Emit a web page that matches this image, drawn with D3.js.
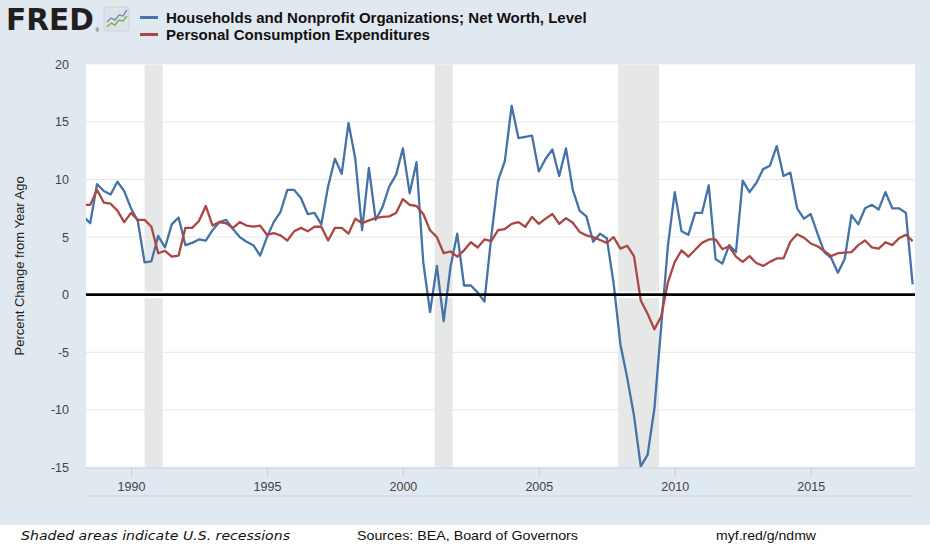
<!DOCTYPE html>
<html lang="en">
<head>
<meta charset="utf-8"/>
<title>FRED – Net worth vs. consumption</title>
<script src="https://cdn.jsdelivr.net/npm/d3@7/dist/d3.min.js"></script>
<style>
  html, body { margin:0; padding:0; background:#fff; overflow:hidden; }
  svg { display:block; font-family:"Liberation Sans", Arial, sans-serif; }
</style>
</head>
<body>
<svg id="chart" width="930" height="550"></svg>
<script>
// quarterly, percent change from year ago, first obs 1988 Q2
const startYear = 1988, startQuarter = 2;

const netWorth = [
  6.8, 6.2, 9.6, 9.0, 8.7, 9.8, 9.0, 7.5, 6.4, 2.8,
  2.9, 5.1, 4.1, 6.1, 6.7, 4.3, 4.5, 4.8, 4.7, 5.6,
  6.3, 6.5, 5.7, 5.0, 4.6, 4.3, 3.4, 5.0, 6.3, 7.2,
  9.1, 9.1, 8.4, 7.0, 7.1, 6.1, 9.4, 11.8, 10.5, 14.9,
  11.8, 5.6, 11.0, 6.5, 7.6, 9.4, 10.4, 12.7, 8.8, 11.5,
  2.8, -1.5, 2.5, -2.3, 2.4, 5.3, 0.8, 0.8, 0.2, -0.6,
  5.0, 9.9, 11.6, 16.4, 13.6, 13.7, 13.8, 10.7, 11.8, 12.6,
  10.3, 12.7, 9.1, 7.3, 6.8, 4.6, 5.3, 4.9, 1.0, -4.3,
  -7.2, -10.5, -14.9, -13.9, -9.9, -2.8, 4.3, 8.9, 5.5, 5.2,
  7.1, 7.1, 9.5, 3.1, 2.7, 4.3, 3.7, 9.9, 8.9, 9.7,
  10.9, 11.2, 12.9, 10.3, 10.6, 7.5, 6.6, 7.0, 5.3, 3.7,
  3.2, 1.9, 3.1, 6.9, 6.1, 7.5, 7.8, 7.4, 8.9, 7.5,
  7.5, 7.1, 0.9
];

const pce = [
  7.8, 7.8, 9.1, 8.0, 7.9, 7.3, 6.3, 7.1, 6.5, 6.5,
  5.9, 3.6, 3.8, 3.3, 3.4, 5.8, 5.8, 6.4, 7.7, 6.0,
  6.3, 6.2, 5.8, 6.3, 6.0, 5.9, 6.0, 5.2, 5.35, 5.15,
  4.7, 5.5, 5.8, 5.5, 5.9, 5.9, 4.7, 5.8, 5.8, 5.3,
  6.6, 6.2, 6.45, 6.65, 6.75, 6.8, 7.1, 8.3, 7.8, 7.7,
  7.0, 5.6, 5.0, 3.6, 3.75, 3.3, 3.85, 4.55, 4.1, 4.8,
  4.65, 5.6, 5.7, 6.15, 6.3, 5.9, 6.75, 6.15, 6.6, 7.0,
  6.15, 6.65, 6.25, 5.45, 5.15, 5.0, 4.75, 4.5, 5.0, 4.0,
  4.25, 3.35, -0.5, -1.65, -3.0, -1.9, 1.1, 2.85, 3.85, 3.3,
  3.9, 4.5, 4.8, 4.8, 3.95, 4.2, 3.3, 2.85, 3.35, 2.75,
  2.5, 2.85, 3.15, 3.15, 4.6, 5.25, 4.95, 4.45, 4.2, 3.8,
  3.35, 3.6, 3.65, 3.7, 4.3, 4.7, 4.1, 4.0, 4.55, 4.3,
  4.9, 5.2, 4.65
];

const recessions = [[1990.5, 1991.17], [2001.17, 2001.83], [2007.92, 2009.42]];
const xTicks = [1990, 1995, 2000, 2005, 2010, 2015];
const yTicks = [-15, -10, -5, 0, 5, 10, 15, 20];
const seriesNames = [
  "Households and Nonprofit Organizations; Net Worth, Level",
  "Personal Consumption Expenditures"
];
const seriesColors = ["#4572a7", "#aa4643"];
const footer = ["Shaded areas indicate U.S. recessions", "Sources: BEA, Board of Governors", "myf.red/g/ndmw"];

const svg = d3.select("#chart");
const plot = {left: 86, right: 915, top: 64.3, bottom: 467.5};

const x = d3.scaleLinear().domain([1990, 2015]).range([131, 810.7]);
const y = d3.scaleLinear().domain([-15, 20]).range([plot.bottom, plot.top]);
const t0 = startYear + (startQuarter - 1) / 4;
const dateOf = i => t0 + i / 4;

// background
svg.append("rect").attr("width", 930).attr("height", 525).attr("fill", "#e1e9f0");
svg.append("rect")
  .attr("x", plot.left).attr("y", plot.top)
  .attr("width", plot.right - plot.left).attr("height", plot.bottom - plot.top)
  .attr("fill", "#fff");

svg.append("defs").append("clipPath").attr("id", "clip")
  .append("rect")
  .attr("x", plot.left).attr("y", plot.top)
  .attr("width", plot.right - plot.left).attr("height", plot.bottom - plot.top);

const g = svg.append("g").attr("clip-path", "url(#clip)");

// grid
g.selectAll("line.grid")
  .data(yTicks.filter(d => d !== 0 && d !== -15 && d !== 20))
  .join("line")
    .attr("class", "grid")
    .attr("x1", plot.left).attr("x2", plot.right)
    .attr("y1", d => y(d)).attr("y2", d => y(d))
    .attr("stroke", "#e6e6e6").attr("stroke-width", 1);

// recession bars
g.selectAll("rect.rec")
  .data(recessions)
  .join("rect")
    .attr("class", "rec")
    .attr("x", d => x(d[0])).attr("width", d => x(d[1]) - x(d[0]))
    .attr("y", plot.top).attr("height", plot.bottom - plot.top)
    .attr("fill", "#e6e7e7");

// white band behind zero line
g.append("rect")
  .attr("x", plot.left).attr("width", plot.right - plot.left)
  .attr("y", y(0) - 3).attr("height", 6.5)
  .attr("fill", "#fff");

// series
const line = d3.line().x((d, i) => x(dateOf(i))).y(d => y(d));
[netWorth, pce].forEach((s, k) => {
  g.append("path")
    .datum(s)
    .attr("d", line)
    .attr("fill", "none")
    .attr("stroke", seriesColors[k])
    .attr("stroke-width", 2.3)
    .attr("stroke-linejoin", "round");
});

// zero line
g.append("line")
  .attr("x1", plot.left).attr("x2", plot.right)
  .attr("y1", y(0)).attr("y2", y(0))
  .attr("stroke", "#000").attr("stroke-width", 2.8);

// x axis
const xAxis = svg.append("g")
  .attr("transform", `translate(0,${plot.bottom})`)
  .call(d3.axisBottom(x).tickValues(xTicks).tickFormat(d3.format("d")).tickSize(9).tickSizeOuter(0).tickPadding(6));
xAxis.select(".domain").remove();
xAxis.selectAll(".tick line").attr("stroke", "#c0d0e0");
xAxis.selectAll(".tick text")
  .attr("fill", "#444").style("font-size", "12.5px")
  .style("font-family", "'Liberation Sans', Arial, sans-serif");
svg.append("line")
  .attr("x1", plot.left).attr("x2", plot.right)
  .attr("y1", plot.bottom + 0.5).attr("y2", plot.bottom + 0.5)
  .attr("stroke", "#c0d0e0");
svg.append("line")
  .attr("x1", plot.left).attr("x2", plot.right)
  .attr("y1", 496).attr("y2", 496)
  .attr("stroke", "#c6d5e6");

// y labels
svg.append("g").selectAll("text")
  .data(yTicks)
  .join("text")
    .attr("x", 69).attr("y", d => y(d) + 4.5)
    .attr("text-anchor", "end")
    .attr("fill", "#444")
    .style("font-size", "12.5px")
    .text(d => d);

svg.append("text")
  .attr("transform", `translate(24,${(plot.top + plot.bottom) / 2}) rotate(-90)`)
  .attr("text-anchor", "middle")
  .attr("fill", "#222")
  .style("font-size", "13px")
  .text("Percent Change from Year Ago");

// FRED logo
svg.append("text")
  .attr("x", 6).attr("y", 30)
  .attr("textLength", 88).attr("lengthAdjust", "spacingAndGlyphs")
  .style("font-size", "30px").style("font-weight", "900")
  .style("font-family", "'DejaVu Sans', sans-serif")
  .attr("fill", "#231f20")
  .text("FRED");
svg.append("text")
  .attr("x", 95.5).attr("y", 32)
  .style("font-size", "5px").attr("fill", "#231f20")
  .text("®");
const icon = svg.append("g").attr("transform", "translate(104,7)");
icon.append("rect").attr("width", 25).attr("height", 24).attr("rx", 2)
  .attr("fill", "#dde2e6").attr("stroke", "#cbd1d6");
icon.append("polyline").attr("points", "3,15 7,11 11,13 15,8 19,9 23,3")
  .attr("fill", "none").attr("stroke", "#6c93c4").attr("stroke-width", 1.4);
icon.append("polyline").attr("points", "3,20 7,16 11,18 15,13 19,14 23,9")
  .attr("fill", "none").attr("stroke", "#7fb24c").attr("stroke-width", 1.4);

// legend
const leg = svg.append("g");
seriesNames.forEach((name, k) => {
  const yy = 17.5 + k * 17;
  leg.append("line")
    .attr("x1", 140).attr("x2", 158).attr("y1", yy).attr("y2", yy)
    .attr("stroke", seriesColors[k]).attr("stroke-width", 3);
  leg.append("text")
    .attr("class", "legtext")
    .attr("x", 166).attr("y", yy + 5.2)
    .style("font-weight", "bold").style("font-size", "14px")
    .attr("fill", "#111")
    .text(name);
});
// size legend so the first entry spans the same width as in the original
const first = leg.select("text.legtext").node();
const fs = 14 * 421 / first.getComputedTextLength();
leg.selectAll("text.legtext").style("font-size", fs + "px");

// footer
const foot = svg.append("g").style("font-size", "13px").attr("fill", "#111");
foot.append("text").attr("x", 21).attr("y", 540)
  .style("font-style", "italic")
  .style("font-family", "'DejaVu Sans', sans-serif")
  .attr("textLength", 269).attr("lengthAdjust", "spacingAndGlyphs")
  .text(footer[0]);
foot.append("text").attr("x", 357).attr("y", 540)
  .attr("textLength", 221).attr("lengthAdjust", "spacingAndGlyphs")
  .text(footer[1]);
foot.append("text").attr("x", 716).attr("y", 540)
  .attr("textLength", 100).attr("lengthAdjust", "spacingAndGlyphs")
  .text(footer[2]);
</script>
</body>
</html>
